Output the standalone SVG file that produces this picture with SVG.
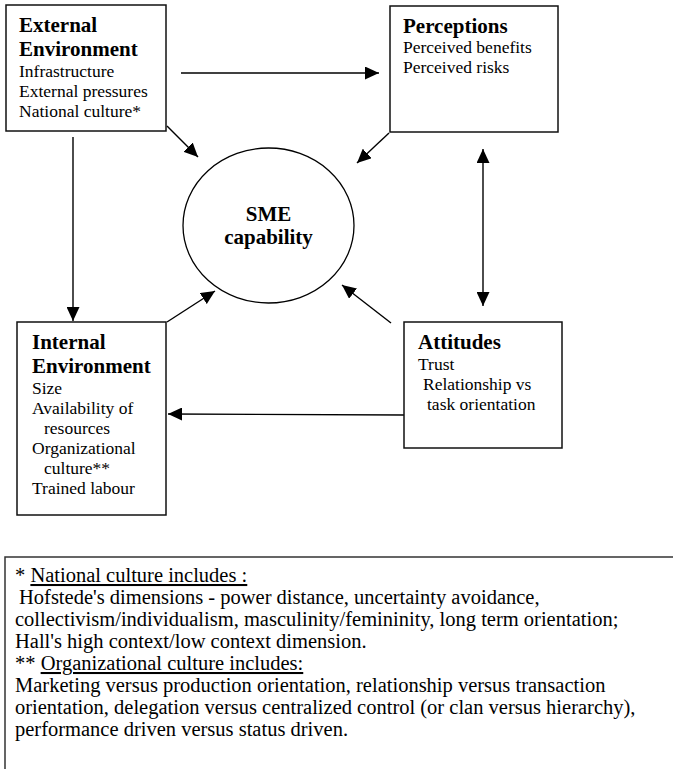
<svg xmlns="http://www.w3.org/2000/svg" width="673" height="769" viewBox="0 0 673 769">
<style>
text { font-family: "Liberation Serif", "Times New Roman", serif; fill: #000; }
.t { font-size: 21px; font-weight: bold; }
.b { font-size: 17.5px; }
.f { font-size: 20.5px; }
.box { fill: #fff; stroke: #111; stroke-width: 1.5; }
.ln { stroke: #000; stroke-width: 1.4; fill: none; }
</style>
<defs>
<marker id="ah" markerUnits="userSpaceOnUse" markerWidth="15" markerHeight="13" refX="14" refY="6.5" orient="auto-start-reverse" viewBox="0 0 15 13">
<path d="M0,0 L14,6.5 L0,13 z" fill="#000"/>
</marker>
</defs>
<rect width="673" height="769" fill="#fff"/>

<g id="connectors">
<line class="ln" x1="181" y1="73" x2="379" y2="73" marker-end="url(#ah)"/>
<line class="ln" x1="73" y1="137" x2="73" y2="321" marker-end="url(#ah)"/>
<line class="ln" x1="483" y1="149" x2="483" y2="306" marker-start="url(#ah)" marker-end="url(#ah)"/>
<line class="ln" x1="404" y1="415" x2="168" y2="414" marker-end="url(#ah)"/>
<line class="ln" x1="167" y1="126" x2="198" y2="157" marker-end="url(#ah)"/>
<line class="ln" x1="389" y1="133" x2="357" y2="163" marker-end="url(#ah)"/>
<line class="ln" x1="167" y1="322" x2="215" y2="291" marker-end="url(#ah)"/>
<line class="ln" x1="391" y1="323" x2="342" y2="285" marker-end="url(#ah)"/>
</g>

<g id="external">
<rect class="box" x="6" y="5" width="160" height="126"/>
<text class="t" x="19" y="32">External</text>
<text class="t" x="19" y="55.5">Environment</text>
<text class="b" x="19" y="76.5">Infrastructure</text>
<text class="b" x="19" y="96.8">External pressures</text>
<text class="b" x="19" y="117">National culture*</text>
</g>

<g id="perceptions">
<rect class="box" x="390" y="6" width="168" height="126"/>
<text class="t" x="403" y="32.5">Perceptions</text>
<text class="b" x="403" y="53.3">Perceived benefits</text>
<text class="b" x="403" y="73.3">Perceived risks</text>
</g>

<g id="sme">
<ellipse cx="268.5" cy="225.5" rx="85.5" ry="77.5" fill="#fff" stroke="#000" stroke-width="1.3"/>
<text class="t" x="268.5" y="221" text-anchor="middle">SME</text>
<text class="t" x="268.5" y="244" text-anchor="middle">capability</text>
</g>

<g id="internal">
<rect class="box" x="17" y="322" width="149" height="193"/>
<text class="t" x="32" y="349">Internal</text>
<text class="t" x="32" y="373">Environment</text>
<text class="b" x="32" y="394">Size</text>
<text class="b" x="32" y="414">Availability of</text>
<text class="b" x="44" y="434">resources</text>
<text class="b" x="32" y="454">Organizational</text>
<text class="b" x="44" y="474">culture**</text>
<text class="b" x="32" y="494">Trained labour</text>
</g>

<g id="attitudes">
<rect class="box" x="404" y="322" width="158" height="126"/>
<text class="t" x="418" y="349">Attitudes</text>
<text class="b" x="418" y="370">Trust</text>
<text class="b" x="423" y="390">Relationship vs</text>
<text class="b" x="427" y="410">task orientation</text>
</g>

<g id="footnote">
<path d="M673,557 L5,557 L5,769" fill="none" stroke="#333" stroke-width="1.5"/>
<text class="f" x="15" y="582">* <tspan text-decoration="underline">National culture includes :</tspan></text>
<text class="f" x="19" y="604">Hofstede's dimensions - power distance, uncertainty avoidance,</text>
<text class="f" x="15" y="626">collectivism/individualism, masculinity/femininity, long term orientation;</text>
<text class="f" x="15" y="648">Hall's high context/low context dimension.</text>
<text class="f" x="15" y="670">** <tspan text-decoration="underline">Organizational culture includes:</tspan></text>
<text class="f" x="15" y="692">Marketing versus production orientation, relationship versus transaction</text>
<text class="f" x="15" y="714">orientation, delegation versus centralized control (or clan versus hierarchy),</text>
<text class="f" x="15" y="736">performance driven versus status driven.</text>
</g>
</svg>
